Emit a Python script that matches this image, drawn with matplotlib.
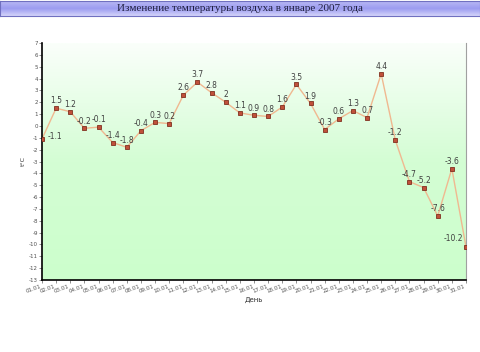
import numpy as np
import matplotlib.pyplot as plt
from matplotlib.colors import LinearSegmentedColormap

days = [f"{d:02d}.01" for d in range(1, 32)]
temps = [-1.1, 1.5, 1.2, -0.2, -0.1, -1.4, -1.8, -0.4, 0.3, 0.2,
         2.6, 3.7, 2.8, 2.0, 1.1, 0.9, 0.8, 1.6, 3.5, 1.9,
         -0.3, 0.6, 1.3, 0.7, 4.4, -1.2, -4.7, -5.2, -7.6, -3.6, -10.2]
labels = ["-1.1", "1.5", "1.2", "-0.2", "-0.1", "-1.4", "-1.8", "-0.4", "0.3", "0.2",
          "2.6", "3.7", "2.8", "2", "1.1", "0.9", "0.8", "1.6", "3.5", "1.9",
          "-0.3", "0.6", "1.3", "0.7", "4.4", "-1.2", "-4.7", "-5.2", "-7.6", "-3.6", "-10.2"]
yticks = list(range(-13, 8))

plt.rcParams["font.family"] = ["DejaVu Sans"]
fig = plt.figure(figsize=(4.8, 3.52), dpi=100)

# title bar
tb = fig.add_axes([0, 1 - 16 / 352, 1, 15 / 352])
bar = LinearSegmentedColormap.from_list("bar", ["#b8b8f4", "#9c9cf0", "#d4d4fa"])
tb.imshow(np.linspace(0, 1, 50).reshape(-1, 1), aspect="auto", cmap=bar,
          extent=[0, 1, 0, 1])
tb.set_xlim(0, 1); tb.set_ylim(0, 1)
tb.set_xticks([]); tb.set_yticks([])
for s in tb.spines.values():
    s.set_color("#7070c0"); s.set_linewidth(0.8)
tb.text(0.5, 0.5, "Изменение температуры воздуха в январе 2007 года",
        ha="center", va="center", fontsize=8, color="#202040",
        family=["Liberation Serif", "DejaVu Serif"])

ax = fig.add_axes([42 / 480, 72 / 352, 424 / 480, 237 / 352])
x = np.arange(1, len(temps) + 1)
green = LinearSegmentedColormap.from_list("g", ["#ccffcc", "#d4fdd4", "#fafffa"])
ax.imshow(np.linspace(0, 1, 100).reshape(-1, 1), aspect="auto", cmap=green,
          origin="lower", extent=[1, 31, -13, 7], zorder=0)
ax.plot(x, temps, "-", color="#f0b890", lw=1.0, zorder=2)
ax.plot(x, temps, "s", ms=3.5, mfc="#c0503a", mec="#803020", mew=0.6, zorder=3)
for i, (xi, yi) in enumerate(zip(x, temps)):
    if i == 0:
        ax.annotate(labels[i], (xi, yi), xytext=(4, 2), textcoords="offset points",
                    fontsize=5.5, color="#404040", ha="left", va="center")
    elif i == len(temps) - 1:
        ax.annotate(labels[i], (xi, yi), xytext=(-2, 3), textcoords="offset points",
                    fontsize=5.5, color="#404040", ha="right", va="bottom")
    else:
        ax.annotate(labels[i], (xi, yi), xytext=(0, 2), textcoords="offset points",
                    fontsize=5.5, color="#404040", ha="center", va="bottom")

ax.set_xlim(1, 31)
ax.set_ylim(-13, 7)
ax.set_yticks(yticks)
ax.set_yticklabels([str(v) for v in yticks], fontsize=4, color="#505050")
ax.set_xticks(x)
ax.set_xticklabels(days, fontsize=4, rotation=20, ha="right", color="#505050")
ax.tick_params(length=2, width=0.5, pad=1, color="#606060")
ax.set_ylabel("t°C", fontsize=4.5, labelpad=2, color="#303030")
ax.set_xlabel("День", fontsize=5, labelpad=2, color="#303030")
ax.spines["top"].set_visible(False)
ax.spines["right"].set_color("#a0a0a0")
ax.spines["right"].set_linewidth(0.8)
ax.spines["left"].set_linewidth(1.2)
ax.spines["bottom"].set_linewidth(1.2)

fig.savefig("out.png", dpi=100)
